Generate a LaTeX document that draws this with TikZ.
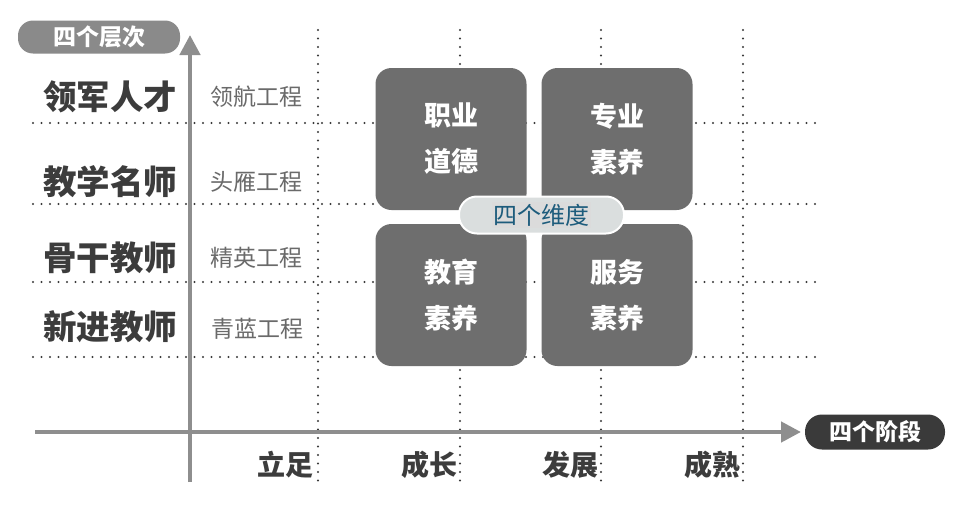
\documentclass[tikz,border=0pt]{standalone}
\usepackage{fontspec}
\setmainfont{Noto Sans CJK SC}
\usetikzlibrary{arrows.meta}
\definecolor{axisgray}{HTML}{8E8E8E}
\definecolor{dotgray}{HTML}{3A3A3A}
\definecolor{boxgray}{HTML}{6E6E6E}
\definecolor{tagdark}{HTML}{3A3A3A}
\definecolor{taggray}{HTML}{8A8A8A}
\definecolor{pillfill}{HTML}{DADEDE}
\definecolor{pilltext}{HTML}{1D5C7C}
\definecolor{lvltext}{HTML}{3C3C3C}
\definecolor{projtext}{HTML}{6A6A6A}
\begin{document}
\begin{tikzpicture}[x=1pt,y=-1pt,
  dotline/.style={dotgray,line width=2.3pt,line cap=round,dash pattern=on 0pt off 8.5pt},
  axisline/.style={axisgray,line width=4.5pt,-{Triangle[width=20pt,length=20pt]}},
  lvl/.style={text=lvltext,font=\fontsize{33.5}{35}\selectfont\bfseries,inner sep=0pt},
  proj/.style={text=projtext,font=\fontsize{23}{25}\selectfont,inner sep=0pt},
  stage/.style={text=lvltext,font=\fontsize{28}{30}\selectfont\bfseries,inner sep=0pt,anchor=east},
  dimbox/.style={fill=boxgray,draw=none,rounded corners=16pt,minimum width=151pt,minimum height=142pt,
    text=white,align=center,font=\fontsize{27}{46}\selectfont\bfseries},
  tag/.style={rounded corners=15pt,minimum height=33pt,text=white,font=\fontsize{23}{25}\selectfont\bfseries,inner sep=0pt}
]
\useasboundingbox (0,0) rectangle (953,522);
\fill[white] (0,0) rectangle (953,522);

% grid of dotted lines
\foreach \y in {123,204,282,357} \draw[dotline] (33,\y) -- (815,\y);
\foreach \x in {318,460,601,743} \draw[dotline] (\x,30) -- (\x,482);

% axes
\coordinate (yb) at (190,482);
\coordinate (yt) at (190,35);
\coordinate (xl) at (35,432);
\coordinate (xr) at (801,432);
\draw[axisline] (yb) -- (yt);
\draw[axisline] (xl) -- (xr);

% axis tags
\node[tag,fill=taggray,minimum width=162pt] (tlevels) at (99,37) {四个层次};
\node[tag,fill=tagdark,minimum width=140pt,minimum height=35pt,rounded corners=17pt] (tstages) at (875,432) {四个阶段};

% levels
\node[lvl] (l1) at (110,97) {领军人才};
\node[lvl] (l2) at (110,182) {教学名师};
\node[lvl] (l3) at (110,258) {骨干教师};
\node[lvl] (l4) at (110,327) {新进教师};

% projects
\node[proj] (p1) at (256,97) {领航工程};
\node[proj] (p2) at (256,182) {头雁工程};
\node[proj] (p3) at (256,258) {精英工程};
\node[proj] (p4) at (257,329) {青蓝工程};

% stages
\node[stage] (s1) at (314,465) {立足};
\node[stage] (s2) at (458,465) {成长};
\node[stage] (s3) at (599,465) {发展};
\node[stage] (s4) at (741,465) {成熟};

% four dimensions
\node[dimbox] (d1) at (451,139) {职业\\道德};
\node[dimbox] (d2) at (617,139) {专业\\素养};
\node[dimbox] (d3) at (451,295) {教育\\素养};
\node[dimbox] (d4) at (617,295) {服务\\素养};

% centre pill
\node[fill=pillfill,draw=white,line width=2pt,rounded corners=18pt,minimum width=165pt,minimum height=37pt] (pill) at (541.5,215) {};
\node[fill=black!14,text=pilltext,inner sep=1.5pt,font=\fontsize{24}{26}\selectfont] (pilltxt) at (pill.center) {四个维度};
\end{tikzpicture}
\end{document}
